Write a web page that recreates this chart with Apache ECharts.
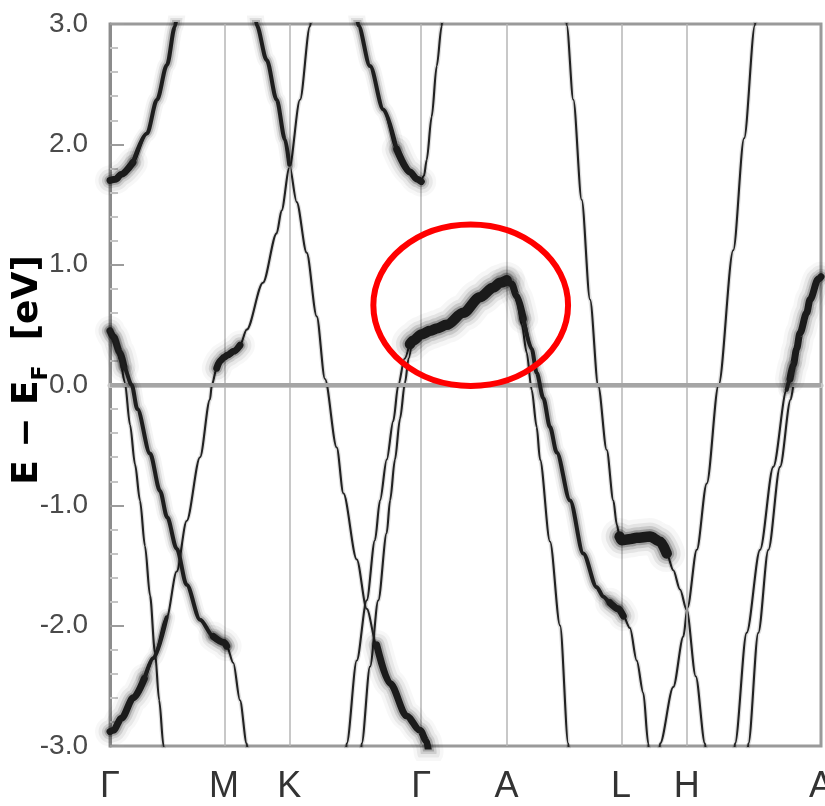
<!DOCTYPE html>
<html>
<head>
<meta charset="utf-8">
<title>Band structure</title>
<script src="https://cdn.jsdelivr.net/npm/echarts@6/dist/echarts.min.js"></script>
<style>
  html, body { margin: 0; padding: 0; background: #ffffff; }
  #chart { width: 825px; height: 806px; }
</style>
</head>
<body>
<div id="chart"></div>
<script>
// High-symmetry points along the k-path (path length, Γ–M = 1)
const kPoints = [0, 0.997, 1.567, 2.721, 3.467, 4.467, 5.041, 6.215];
const kLabels = ['Γ', 'M', 'K', 'Γ', 'A', 'L', 'H', 'A'];

// Energy range and tick step (eV)
const eMin = -3, eMax = 3, eStep = 1;

// Bands: [k, E - E_F]
const gammaUpper = [[0,1.70],[0.05,1.71],[0.096,1.75],[0.20,1.85],[0.323,2.09],[0.411,2.37],[0.498,2.66],[0.568,2.98],[0.585,3.08]];
const bandKdown = [[1.27,3.08],[1.282,2.99],[1.370,2.70],[1.457,2.37],[1.530,2.04],[1.567,1.83],[1.632,1.52],[1.719,1.10],[1.807,0.57],[1.879,0.05],[1.982,-0.52],[2.04,-0.90],[2.157,-1.45],[2.244,-1.86],[2.331,-2.16],[2.448,-2.48],[2.593,-2.75],[2.710,-2.87],[2.768,-2.96],[2.785,-3.05]];
const bandQ = [[0,-2.88],[0.029,-2.87],[0.10,-2.77],[0.204,-2.60],[0.30,-2.44],[0.378,-2.27],[0.496,-1.93],[0.583,-1.55],[0.670,-1.13],[0.787,-0.60],[0.874,-0.12],[0.89,0.0],[0.933,0.14],[0.962,0.20],[0.997,0.23],[1.03,0.25],[1.08,0.28],[1.136,0.33],[1.195,0.46],[1.337,0.85],[1.457,1.26],[1.50,1.45],[1.567,1.80],[1.661,2.37],[1.748,2.98],[1.765,3.08]];
const bandR = [[0,0.45],[0.03,0.40],[0.087,0.27],[0.122,0.15],[0.19,0.0],[0.239,-0.20],[0.35,-0.57],[0.437,-0.88],[0.50,-1.10],[0.583,-1.36],[0.670,-1.66],[0.787,-1.95],[0.903,-2.09],[0.997,-2.14],[1.02,-2.17],[1.078,-2.31],[1.136,-2.62],[1.195,-2.98],[1.206,-3.06]];
const bandS = [[0,0.45],[0.052,0.33],[0.087,0.21],[0.13,0.02],[0.175,-0.33],[0.219,-0.66],[0.262,-0.96],[0.306,-1.34],[0.350,-1.75],[0.393,-2.22],[0.43,-2.62],[0.468,-3.0],[0.475,-3.06]];
const gammaMidLeft = [[2.155,3.08],[2.170,2.99],[2.273,2.65],[2.389,2.29],[2.506,1.96],[2.622,1.77],[2.684,1.71],[2.721,1.69]];
const gammaMidRight = [[2.721,1.69],[2.745,1.74],[2.768,1.87],[2.812,2.23],[2.856,2.65],[2.899,2.98],[2.906,3.06]];
const bandT1 = [[2.060,-3.06],[2.069,-2.98],[2.157,-2.29],[2.244,-1.79],[2.316,-1.29],[2.360,-0.96],[2.419,-0.62],[2.476,-0.30],[2.52,0.0],[2.575,0.22],[2.622,0.36]];
const bandT2 = [[2.193,-3.06],[2.200,-2.98],[2.273,-2.34],[2.345,-1.79],[2.419,-1.23],[2.448,-0.96],[2.491,-0.62],[2.535,-0.28],[2.579,0.02],[2.61,0.22],[2.64,0.37]];
const bandGammaA = [[2.622,0.34],[2.651,0.37],[2.721,0.42],[2.80,0.45],[2.856,0.47],[2.943,0.50],[3.088,0.60],[3.234,0.73],[3.351,0.81],[3.41,0.85],[3.467,0.87]];
const bandU1 = [[3.467,0.87],[3.511,0.84],[3.555,0.70],[3.60,0.50],[3.642,0.27],[3.686,-0.04],[3.730,-0.35],[3.759,-0.62],[3.846,-1.30],[3.934,-2.0],[4.006,-2.98],[4.012,-3.06]];
const bandU2 = [[3.467,0.87],[3.511,0.84],[3.555,0.74],[3.613,0.55],[3.686,0.30],[3.730,0.10],[3.788,-0.11],[3.846,-0.35],[3.905,-0.56],[4.021,-0.96],[4.137,-1.40],[4.254,-1.68],[4.313,-1.76],[4.371,-1.81],[4.443,-1.86],[4.487,-1.92],[4.545,-2.02],[4.604,-2.29],[4.662,-2.56],[4.705,-2.98],[4.712,-3.06]];
const bandV = [[3.985,3.08],[3.992,2.99],[4.050,2.37],[4.123,1.54],[4.196,0.71],[4.268,-0.01],[4.342,-0.54],[4.400,-0.96],[4.43,-1.16],[4.455,-1.26],[4.473,-1.29],[4.55,-1.28],[4.604,-1.27],[4.72,-1.26],[4.808,-1.30],[4.866,-1.40],[4.924,-1.54],[4.983,-1.70],[5.041,-1.87],[5.12,-2.42],[5.201,-2.98],[5.21,-3.06]];
const bandW = [[4.800,-3.06],[4.808,-2.98],[4.924,-2.51],[5.012,-2.09],[5.048,-1.85],[5.129,-1.37],[5.216,-0.82],[5.32,0.0],[5.448,1.12],[5.543,2.05],[5.638,2.99],[5.648,3.08]];
const bandX1 = [[5.455,-3.06],[5.463,-2.98],[5.565,-2.06],[5.682,-1.37],[5.798,-0.68],[5.915,-0.04],[5.944,0.05]];
const bandX2 = [[5.572,-3.06],[5.580,-2.98],[5.667,-2.06],[5.755,-1.37],[5.857,-0.68],[5.95,-0.12],[5.973,0.0]];
const bandHA = [[5.915,-0.04],[5.944,0.05],[5.973,0.17],[6.002,0.30],[6.031,0.43],[6.090,0.60],[6.119,0.71],[6.191,0.88],[6.215,0.90]];

// Highlighted region (centre and half-axes in k / eV)
const ringCenter = [3.153, 0.663];
const ringHalfAxes = [0.851, 0.671];

// Line styles: core width plus soft halo layers [width, opacity]
const THIN   = { width: 2.1, color: '#222222', halo: [[4.5, 0.12]] };
const MEDIUM = { width: 4,   color: '#1e1e1e', halo: [[8, 0.18], [12, 0.09], [17, 0.045]] };
const BROAD  = { width: 7,   color: '#1b1b1b', halo: [[11, 0.2], [16, 0.11], [23, 0.06], [30, 0.03]] };
const HEAVY  = { width: 10.5, color: '#1a1a1a', halo: [[15, 0.22], [21, 0.12], [28, 0.07], [37, 0.035]] };

const allBands = [gammaUpper, bandKdown, bandQ, bandR, bandS, gammaMidLeft, gammaMidRight,
  bandT1, bandT2, bandGammaA, bandU1, bandU2, bandV, bandW, bandX1, bandX2, bandHA];

// Broadened stretches: [band, k from, k to, style]
const broadened = [
  [gammaUpper, 0, 0.25, BROAD], [gammaUpper, 0.20, 0.6, MEDIUM],
  [bandKdown, 1.27, 1.57, MEDIUM], [bandKdown, 2.33, 2.80, BROAD],
  [bandQ, 0, 0.31, BROAD], [bandQ, 0.30, 0.50, MEDIUM], [bandQ, 0.93, 1.14, BROAD],
  [bandR, 0, 0.13, BROAD], [bandR, 0, 1.03, MEDIUM], [bandR, 0.90, 1.03, BROAD],
  [gammaMidLeft, 2.15, 2.51, MEDIUM], [gammaMidLeft, 2.50, 2.73, BROAD],
  [bandGammaA, 2.6, 3.5, HEAVY],
  [bandU2, 3.467, 3.62, BROAD], [bandU2, 3.61, 4.45, MEDIUM], [bandU2, 4.37, 4.50, BROAD],
  [bandV, 4.45, 4.87, HEAVY],
  [bandHA, 5.94, 6.215, BROAD], [bandHA, 5.91, 5.98, MEDIUM]
];

function slice(band, k0, k1) {
  return band.filter(p => p[0] >= k0 - 1e-9 && p[0] <= k1 + 1e-9);
}

function lineLayer(data, width, color, z) {
  return {
    type: 'line',
    data: data,
    showSymbol: false,
    smooth: 0.3,
    smoothMonotone: 'x',
    clip: true,
    silent: true,
    animation: false,
    z: z,
    lineStyle: { width: width, color: color, cap: 'round', join: 'round' }
  };
}

function bandLayers(data, st, z) {
  const layers = st.halo.map(([w, a]) => lineLayer(data, w, 'rgba(0,0,0,' + a + ')', z));
  layers.push(lineLayer(data, st.width, st.color, z + 1));
  return layers;
}

const series = [];

// Reference lines: high-symmetry verticals and the Fermi level
series.push({
  type: 'line',
  data: [],
  silent: true,
  z: 1,
  markLine: {
    silent: true,
    animation: false,
    symbol: ['none', 'none'],
    label: { show: false },
    data: kPoints.slice(1, -1).map(k => ({
      xAxis: k,
      lineStyle: { color: '#b6b6b6', width: 1.5, type: 'solid' }
    })).concat([{
      yAxis: 0,
      lineStyle: { color: '#a5a5a5', width: 3.8, type: 'solid' }
    }])
  }
});

allBands.forEach(b => bandLayers(b, THIN, 3).forEach(s => series.push(s)));
broadened.forEach(([b, k0, k1, st]) => bandLayers(slice(b, k0, k1), st, 5).forEach(s => series.push(s)));

const labelFont = "'Liberation Sans Narrow', 'Liberation Sans', 'Arial Narrow', sans-serif";

const option = {
  animation: false,
  backgroundColor: '#ffffff',
  grid: {
    left: 110, right: 4, top: 24, bottom: 60,
    containLabel: false,
    outerBoundsMode: 'none',
    show: true,
    borderColor: '#9a9a9a',
    borderWidth: 3,
    backgroundColor: 'transparent'
  },
  xAxis: {
    type: 'value',
    min: kPoints[0],
    max: kPoints[kPoints.length - 1],
    axisLine: { show: true, lineStyle: { color: '#c6c6c6', width: 5 } },
    axisTick: { show: false },
    splitLine: { show: false },
    axisLabel: {
      customValues: kPoints,
      margin: 23,
      color: '#333333',
      fontFamily: labelFont,
      fontSize: 36,
      formatter: v => {
        const i = kPoints.indexOf(v);
        return i >= 0 ? kLabels[i] : '';
      }
    }
  },
  yAxis: {
    type: 'value',
    min: eMin,
    max: eMax,
    interval: eStep,
    axisLine: { show: true, lineStyle: { color: '#8c8c8c', width: 3 } },
    axisTick: { show: true, inside: true, length: 14, lineStyle: { color: '#9c9c9c', width: 2 } },
    minorTick: { show: true, splitNumber: 5, length: 8, lineStyle: { color: '#c4c4c4', width: 2 } },
    splitLine: { show: false },
    axisLabel: {
      margin: 22,
      color: '#4a4a4a',
      fontFamily: labelFont,
      fontSize: 28,
      formatter: v => v.toFixed(1)
    },
    name: '{m|E − E}{s|F}{m|  [eV]}',
    nameLocation: 'middle',
    nameRotate: 90,
    nameGap: 58,
    nameMoveOverlap: false,
    nameTextStyle: {
      padding: [0, 0, 0, 30],
      rich: {
        m: { fontFamily: "'DejaVu Sans', sans-serif", fontWeight: 'bold', fontSize: 36, color: '#000000', lineHeight: 48 },
        s: { fontFamily: "'DejaVu Sans', sans-serif", fontWeight: 'bold', fontSize: 22, color: '#000000', lineHeight: 22, padding: [26, 0, 0, 0] }
      }
    }
  },
  series: series
};

const chart = echarts.init(document.getElementById('chart'), null, { renderer: 'canvas' });
chart.setOption(option);

// Red ring around the flat band along Γ–A, placed in data coordinates
const c = chart.convertToPixel({ gridIndex: 0 }, ringCenter);
const e = chart.convertToPixel({ gridIndex: 0 }, [ringCenter[0] + ringHalfAxes[0], ringCenter[1] + ringHalfAxes[1]]);
chart.setOption({
  graphic: [{
    type: 'ellipse',
    silent: true,
    z: 100,
    shape: { cx: c[0], cy: c[1], rx: Math.abs(e[0] - c[0]), ry: Math.abs(c[1] - e[1]) },
    style: { fill: 'none', stroke: '#ff0000', lineWidth: 6 }
  }]
});
</script>
</body>
</html>
